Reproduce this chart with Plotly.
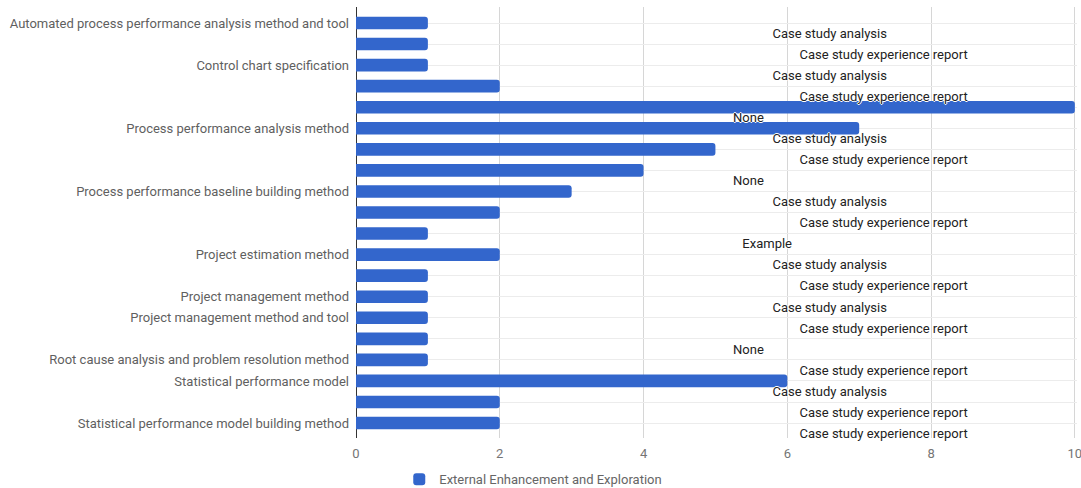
import plotly.graph_objects as go

# Row labels (blank rows belong to the labelled group above them)
row_labels = [
    "Automated process performance analysis method and tool",
    "",
    "Control chart specification",
    "",
    "",
    "Process performance analysis method",
    "",
    "",
    "Process performance baseline building method",
    "",
    "",
    "Project estimation method",
    "",
    "Project management method",
    "Project management method and tool",
    "",
    "Root cause analysis and problem resolution method",
    "Statistical performance model",
    "",
    "Statistical performance model building method",
]

counts = [1, 1, 1, 2, 10, 7, 5, 4, 3, 2, 1, 2, 1, 1, 1, 1, 1, 6, 2, 2]

evidence = [
    "Case study analysis",
    "Case study experience report",
    "Case study analysis",
    "Case study experience report",
    "None",
    "Case study analysis",
    "Case study experience report",
    "None",
    "Case study analysis",
    "Case study experience report",
    "Example",
    "Case study analysis",
    "Case study experience report",
    "Case study analysis",
    "Case study experience report",
    "None",
    "Case study experience report",
    "Case study analysis",
    "Case study experience report",
    "Case study experience report",
]

series_name = "External Enhancement and Exploration"
x_ticks = [0, 2, 4, 6, 8, 10]

# horizontal anchor of each evidence label along the value axis
label_anchor = {
    "Case study analysis": 6.59,
    "Case study experience report": 7.34,
    "None": 5.46,
    "Example": 5.72,
}

rows = list(range(len(counts)))

fig = go.Figure()
fig.add_trace(go.Bar(
    x=counts,
    y=rows,
    orientation="h",
    width=0.6,
    name=series_name,
    marker=dict(color="#3366cc", line=dict(width=0), cornerradius=3),
    showlegend=True,
    hoverinfo="x+y",
))

fig.add_trace(go.Scatter(
    x=[label_anchor[e] for e in evidence],
    y=[r + 0.55 for r in rows],
    mode="text",
    text=evidence,
    textposition="middle center",
    cliponaxis=False,
    textfont=dict(
        family="Roboto, Arial, sans-serif", size=13, color="#222222",
        shadow="1px 0 0 #fff, -1px 0 0 #fff, 0 1px 0 #fff, 0 -1px 0 #fff",
    ),
    showlegend=False,
    hoverinfo="skip",
))

fig.update_layout(
    width=1081,
    height=488,
    margin=dict(l=356, r=4, t=7, b=50, autoexpand=False),
    paper_bgcolor="white",
    plot_bgcolor="white",
    font=dict(family="Roboto, Arial, sans-serif", size=13, color="#666666"),
    showlegend=True,
    legend=dict(
        orientation="h",
        xref="paper", x=0.06, xanchor="left",
        yref="container", y=0.018, yanchor="middle",
        font=dict(size=13, color="#666666"),
        itemclick=False,
    ),
    xaxis=dict(
        range=[0, 10.03],
        tickvals=x_ticks,
        showgrid=True,
        gridcolor="#d6d6d6",
        gridwidth=1,
        zeroline=True,
        zerolinecolor="#333333",
        zerolinewidth=1,
        showline=False,
        ticks="",
        ticklabelstandoff=6,
        ticklabeloverflow="allow",
        automargin=False,
        tickfont=dict(size=13, color="#757575"),
        fixedrange=True,
    ),
    yaxis=dict(
        range=[19.71, -0.76],
        tickvals=rows,
        ticktext=row_labels,
        showgrid=True,
        gridcolor="#ececec",
        gridwidth=1,
        zeroline=False,
        showline=False,
        ticks="",
        ticklabelstandoff=6,
        automargin=False,
        tickfont=dict(size=13, color="#5f5f5f"),
        fixedrange=True,
    ),
)

fig.write_html("out.html")
